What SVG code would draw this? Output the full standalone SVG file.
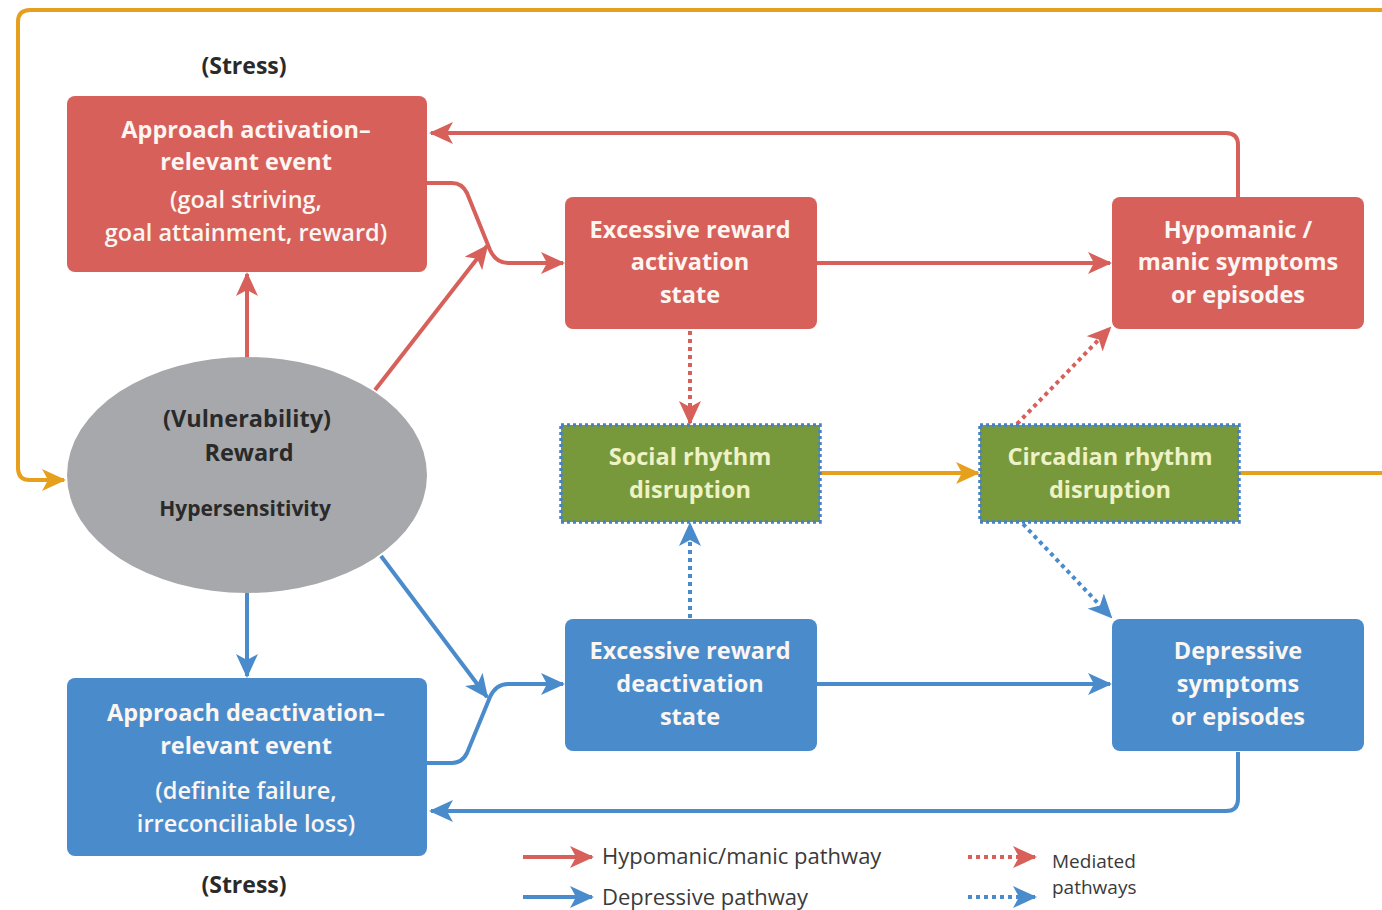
<svg xmlns="http://www.w3.org/2000/svg" width="1382" height="910" viewBox="0 0 1382 910">
<style>
.bg{fill:#ffffff}
.red{fill:#d7605a}
.blue{fill:#4a8bcb}
.green{fill:#77993b;stroke:#4a80c4;stroke-width:3.5;stroke-dasharray:3 3}
.t{font-family:"Open Sans","Liberation Sans",sans-serif;font-weight:700;font-size:23.5px;text-anchor:middle;fill:#fbf6f2}
.tg{font-family:"Open Sans","Liberation Sans",sans-serif;font-weight:700;font-size:23.5px;text-anchor:middle;fill:#eef2c6}
.tp{font-family:"Open Sans","Liberation Sans",sans-serif;font-weight:600;font-size:23.5px;text-anchor:middle;fill:#fbf6f2}
.dk{font-family:"Open Sans","Liberation Sans",sans-serif;font-weight:700;text-anchor:middle;fill:#2a2a2a}
.lg{font-family:"Open Sans","Liberation Sans",sans-serif;font-weight:400;font-size:22px;fill:#3a3a3a}
.lm{font-family:"Open Sans","Liberation Sans",sans-serif;font-weight:400;font-size:19px;fill:#3a3a3a}
.cr{fill:none;stroke:#d7605a;stroke-width:4}
.cb{fill:none;stroke:#4a8bcb;stroke-width:4}
.co{fill:none;stroke:#e6a01e;stroke-width:4}
.dr{fill:none;stroke:#d7605a;stroke-width:4;stroke-dasharray:4 4}
.db{fill:none;stroke:#4a8bcb;stroke-width:4;stroke-dasharray:4 4}
</style>
<defs>
<marker id="ar" viewBox="0 0 24 22" refX="22" refY="11" markerWidth="24" markerHeight="22" markerUnits="userSpaceOnUse" orient="auto"><path d="M0,0 L24,11 L0,22 L6,11 z" fill="#d7605a"/></marker>
<marker id="ab" viewBox="0 0 24 22" refX="22" refY="11" markerWidth="24" markerHeight="22" markerUnits="userSpaceOnUse" orient="auto"><path d="M0,0 L24,11 L0,22 L6,11 z" fill="#4a8bcb"/></marker>
<marker id="ao" viewBox="0 0 24 22" refX="22" refY="11" markerWidth="24" markerHeight="22" markerUnits="userSpaceOnUse" orient="auto"><path d="M0,0 L24,11 L0,22 L6,11 z" fill="#e6a01e"/></marker>
</defs>
<rect class="bg" x="0" y="0" width="1382" height="910"/>

<g id="connectors">
<path class="co" d="M1382,10 L30,10 Q18,10 18,22 L18,468 Q18,480 30,480 L64,480" marker-end="url(#ao)"/>
<path class="co" d="M820,473 L978,473" marker-end="url(#ao)"/>
<path class="co" d="M1239,473 L1382,473"/>
<path class="cr" d="M247,357 L247,274" marker-end="url(#ar)"/>
<path class="cr" d="M375,390 L487,246" marker-end="url(#ar)"/>
<path class="cr" d="M427,183 L452,183 Q462,183 467,193 L490,250 Q496,263 508,263 L563,263" marker-end="url(#ar)"/>
<path class="cr" d="M817,263 L1110,263" marker-end="url(#ar)"/>
<path class="cr" d="M1238,197 L1238,145 Q1238,133 1226,133 L431,133" marker-end="url(#ar)"/>
<path class="dr" d="M690,331 L690,423" marker-end="url(#ar)"/>
<path class="dr" d="M1017,424 L1110,328" marker-end="url(#ar)"/>
<path class="db" d="M690,618 L690,524" marker-end="url(#ab)"/>
<path class="db" d="M1023,524 L1111,617" marker-end="url(#ab)"/>
<path class="cb" d="M247,593 L247,676" marker-end="url(#ab)"/>
<path class="cb" d="M381,556 L487,697" marker-end="url(#ab)"/>
<path class="cb" d="M427,763 L452,763 Q462,763 467,753 L490,697 Q496,684 508,684 L563,684" marker-end="url(#ab)"/>
<path class="cb" d="M817,684 L1110,684" marker-end="url(#ab)"/>
<path class="cb" d="M1238,752 L1238,799 Q1238,811 1226,811 L431,811" marker-end="url(#ab)"/>
</g>

<g id="stress-top"><text class="dk" x="244" y="74" font-size="23">(Stress)</text></g>
<g id="stress-bottom"><text class="dk" x="244" y="893" font-size="23">(Stress)</text></g>

<g id="approach-activation">
<rect class="red" x="67" y="96" width="360" height="176" rx="8"/>
<text class="t" x="246" y="138">Approach activation–</text>
<text class="t" x="246" y="170">relevant event</text>
<text class="tp" x="246" y="208">(goal striving,</text>
<text class="tp" x="246" y="241">goal attainment, reward)</text>
</g>

<g id="excessive-activation">
<rect class="red" x="565" y="197" width="252" height="132" rx="8"/>
<text class="t" x="690" y="238">Excessive reward</text>
<text class="t" x="690" y="270">activation</text>
<text class="t" x="690" y="303">state</text>
</g>

<g id="hypomanic">
<rect class="red" x="1112" y="197" width="252" height="132" rx="8"/>
<text class="t" x="1238" y="238">Hypomanic /</text>
<text class="t" x="1238" y="270">manic symptoms</text>
<text class="t" x="1238" y="303">or episodes</text>
</g>

<g id="vulnerability">
<ellipse cx="247" cy="475" rx="180" ry="118" fill="#a7a8ab"/>
<text class="dk" x="247" y="427" font-size="23.5">(Vulnerability)</text>
<text class="dk" x="249" y="461" font-size="23.5">Reward</text>
<text class="dk" x="245" y="516" font-size="21">Hypersensitivity</text>
</g>

<g id="social-rhythm">
<rect class="green" x="561" y="425" width="259" height="97"/>
<text class="tg" x="690" y="465">Social rhythm</text>
<text class="tg" x="690" y="498">disruption</text>
</g>

<g id="circadian-rhythm">
<rect class="green" x="980" y="425" width="259" height="97"/>
<text class="tg" x="1110" y="465">Circadian rhythm</text>
<text class="tg" x="1110" y="498">disruption</text>
</g>

<g id="excessive-deactivation">
<rect class="blue" x="565" y="619" width="252" height="132" rx="8"/>
<text class="t" x="690" y="659">Excessive reward</text>
<text class="t" x="690" y="692">deactivation</text>
<text class="t" x="690" y="725">state</text>
</g>

<g id="depressive">
<rect class="blue" x="1112" y="619" width="252" height="132" rx="8"/>
<text class="t" x="1238" y="659">Depressive</text>
<text class="t" x="1238" y="692">symptoms</text>
<text class="t" x="1238" y="725">or episodes</text>
</g>

<g id="approach-deactivation">
<rect class="blue" x="67" y="678" width="360" height="178" rx="8"/>
<text class="t" x="246" y="721">Approach deactivation–</text>
<text class="t" x="246" y="754">relevant event</text>
<text class="tp" x="246" y="799">(definite failure,</text>
<text class="tp" x="246" y="832">irreconciliable loss)</text>
</g>

<g id="legend">
<path class="cr" d="M523,857 L592,857" marker-end="url(#ar)"/>
<path class="cb" d="M523,897 L592,897" marker-end="url(#ab)"/>
<path class="dr" d="M968,857 L1035,857" marker-end="url(#ar)"/>
<path class="db" d="M968,897 L1035,897" marker-end="url(#ab)"/>
<text class="lg" x="602" y="864">Hypomanic/manic pathway</text>
<text class="lg" x="602" y="905">Depressive pathway</text>
<text class="lm" x="1052" y="868">Mediated</text>
<text class="lm" x="1052" y="894">pathways</text>
</g>
</svg>
